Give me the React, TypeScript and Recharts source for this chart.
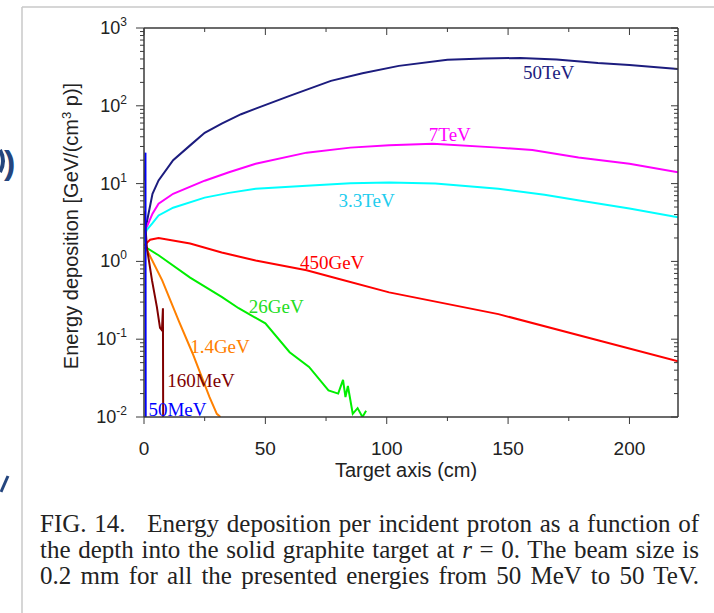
import { LineChart, Line, XAxis, YAxis, ReferenceDot } from "recharts";

// depth along the target axis (cm) and energy deposition (GeV/(cm^3 p))
const depth50TeV = [0, 1, 3.5, 6, 12, 19, 25, 32, 40, 46, 60, 77, 90, 105, 125, 140, 155, 170, 187, 200, 220];
const edep50TeV = [2, 3, 7.4, 11, 20, 31, 45, 59, 78, 92, 134, 209, 262, 326, 390, 405, 412, 395, 355, 335, 297];

const depth7TeV = [0, 1, 3.5, 6, 12, 25, 35, 46, 67, 85, 101, 119, 146, 160, 179, 200, 220];
const edep7TeV = [2, 2.7, 4.1, 5.5, 7.4, 10.9, 14, 18, 25, 29, 31, 32.6, 29, 27, 21.6, 18, 14];

const depth3TeV = [0, 1, 3.5, 6, 12, 25, 35, 46, 67, 85, 101, 120, 146, 165, 180, 200, 220];
const edep3TeV = [1.8, 2.5, 3.1, 3.9, 4.9, 6.6, 7.6, 8.6, 9.4, 10.1, 10.3, 10, 8.6, 7.2, 6.0, 4.8, 3.7];

const depth450GeV = [0, 2.5, 6, 19, 32, 46, 67, 80, 101, 146, 187, 220];
const edep450GeV = [1.6, 1.9, 2.0, 1.7, 1.3, 1.03, 0.77, 0.6, 0.4, 0.21, 0.097, 0.052];

const depth26GeV = [0, 1, 6, 19, 32, 39, 50, 60, 68, 76, 80, 82, 83, 84, 86, 88, 90, 91.5];
const edep26GeV = [1.5, 1.5, 1.2, 0.62, 0.35, 0.25, 0.16, 0.068, 0.044, 0.022, 0.02, 0.03, 0.018, 0.025, 0.011, 0.013, 0.01, 0.012];

const depth1GeV = [0, 1, 7.5, 14.4, 20, 27, 30, 31.5];
const edep1GeV = [1.5, 1.45, 0.57, 0.17, 0.066, 0.018, 0.011, 0.01];

const depth160MeV = [0, 0.4, 1.2, 3.3, 5.3, 6.6, 7.4, 7.8, 7.9];
const edep160MeV = [4.4, 3.4, 1.5, 0.57, 0.26, 0.14, 0.13, 0.25, 0.01];

const depth50MeV = [0, 0.4, 0.6, 0.7];
const edep50MeV = [11, 12, 25, 0.01];

const xMajorTicks = [0, 50, 100, 150, 200];
const xMinorTicks = [25, 75, 125, 175];
const yDecades = [0.01, 0.1, 1, 10, 100];
const yTop = 1000;

const toPoints = (xs: number[], ys: number[]) => xs.map((x, i) => ({ x, y: ys[i] }));

const series = [
  { name: "50TeV", color: "#1c1c7e", data: toPoints(depth50TeV, edep50TeV) },
  { name: "7TeV", color: "#ff00ff", data: toPoints(depth7TeV, edep7TeV) },
  { name: "3.3TeV", color: "#00ffff", data: toPoints(depth3TeV, edep3TeV) },
  { name: "450GeV", color: "#ff0000", data: toPoints(depth450GeV, edep450GeV) },
  { name: "26GeV", color: "#00ee00", data: toPoints(depth26GeV, edep26GeV) },
  { name: "1.4GeV", color: "#ff8000", data: toPoints(depth1GeV, edep1GeV) },
  { name: "160MeV", color: "#800000", data: toPoints(depth160MeV, edep160MeV) },
  { name: "50MeV", color: "#0000ff", data: toPoints(depth50MeV, edep50MeV) },
];

// curve annotations (data coordinates)
const labels = [
  { text: "50TeV", x: 166.7, y: 272, color: "#1c1c7e" },
  { text: "7TeV", x: 126, y: 42.8, color: "#ff00ff" },
  { text: "3.3TeV", x: 91.7, y: 6.15, color: "#22ccee" },
  { text: "450GeV", x: 77.5, y: 0.97, color: "#ff0000" },
  { text: "26GeV", x: 54.5, y: 0.263, color: "#22dd22" },
  { text: "1.4GeV", x: 31.3, y: 0.0818, color: "#ff8000" },
  { text: "160MeV", x: 23.5, y: 0.0293, color: "#800000" },
  { text: "50MeV", x: 13.8, y: 0.0124, color: "#0000ff" },
];

const yTicks = [...yDecades.flatMap((d) => [1, 2, 3, 4, 5, 6, 7, 8, 9].map((m) => +(d * m).toPrecision(3))), yTop];
const xTicks = [...xMajorTicks, ...xMinorTicks].sort((a, b) => a - b);

const AXIS = "#3a3a3a";
const SANS = "'Liberation Sans', Arial, Helvetica, sans-serif";
const SERIF = "'Liberation Serif', 'Times New Roman', serif";

const isDecade = (v: number) => Math.abs(Math.log10(v) - Math.round(Math.log10(v))) < 1e-6;

function LeftTick({ x, y, payload }: any) {
  const v = payload.value;
  const major = isDecade(v);
  const exp = Math.round(Math.log10(v));
  return (
    <g>
      <line x1={x} x2={x - (major ? 8 : 4)} y1={y} y2={y} stroke={AXIS} strokeWidth={1} />
      {major && (
        <text x={x - 17} y={y + 6} textAnchor="end" fontSize={18} fontFamily={SANS} fill="#222">
          10<tspan dy={-8} fontSize={12}>{exp}</tspan>
        </text>
      )}
    </g>
  );
}

function RightTick({ x, y, payload }: any) {
  const major = isDecade(payload.value);
  return <line x1={x} x2={x - (major ? 7 : 4)} y1={y} y2={y} stroke={AXIS} strokeWidth={1} />;
}

function BottomTick({ x, y, payload }: any) {
  const major = xMajorTicks.includes(payload.value);
  return (
    <g>
      <line x1={x} x2={x} y1={y} y2={y + (major ? 7 : 4)} stroke={AXIS} strokeWidth={1} />
      {major && (
        <text x={x} y={y + 38} textAnchor="middle" fontSize={19} fontFamily={SANS} fill="#222">
          {payload.value}
        </text>
      )}
    </g>
  );
}

function TopTick({ x, y, payload }: any) {
  const major = xMajorTicks.includes(payload.value);
  return <line x1={x} x2={x} y1={y} y2={y + (major ? 7 : 4)} stroke={AXIS} strokeWidth={1} />;
}

export default function App() {
  return (
    <div style={{ position: "absolute", left: 0, top: 0, width: 714, height: 613, background: "#fff", overflow: "hidden" }}>
      <svg width={714} height={613} style={{ position: "absolute", left: 0, top: 0 }}>
        <line x1={22} x2={714} y1={7} y2={7} stroke="#c8c8c8" strokeWidth={1.5} />
        <line x1={22} x2={22} y1={7} y2={613} stroke="#c8c8c8" strokeWidth={1.5} />
        <path d="M0 150 Q6 161 0 172" fill="none" stroke="#24457e" strokeWidth={4} />
        <text x={4} y={174} fontSize={34} fontWeight="bold" fontFamily={SANS} fill="#24457e">)</text>
        <line x1={1} y1={492} x2={8} y2={476} stroke="#24457e" strokeWidth={3} />
        <text transform="translate(78,226) rotate(-90)" textAnchor="middle" fontSize={20} fontFamily={SANS} fill="#222">
          Energy deposition [GeV/(cm<tspan dy={-7} fontSize={13}>3</tspan>
          <tspan dy={7}> p)]</tspan>
        </text>
        <text x={406} y={477} textAnchor="middle" fontSize={20} fontFamily={SANS} fill="#222">
          Target axis (cm)
        </text>
      </svg>
      <div style={{ position: "absolute", left: 0, top: 0 }}>
        <LineChart width={714} height={613} margin={{ top: 27, right: 35, left: 0, bottom: 163 }}>
          <XAxis
            xAxisId={0}
            dataKey="x"
            type="number"
            domain={[0, 220]}
            ticks={xTicks}
            interval={0}
            tickSize={0}
            tickMargin={0}
            tick={<BottomTick />}
            height={33}
            allowDataOverflow
            axisLine={{ stroke: AXIS, strokeWidth: 1.5 }}
          />
          <XAxis
            xAxisId="top"
            orientation="top"
            dataKey="x"
            type="number"
            domain={[0, 220]}
            ticks={xTicks}
            interval={0}
            tickSize={0}
            tickMargin={0}
            tick={<TopTick />}
            height={1}
            allowDataOverflow
            axisLine={{ stroke: AXIS, strokeWidth: 1.5 }}
          />
          <YAxis
            yAxisId={0}
            type="number"
            scale="log"
            domain={[0.01, 1000]}
            ticks={yTicks}
            interval={0}
            tickSize={0}
            tickMargin={0}
            tick={<LeftTick />}
            width={144}
            allowDataOverflow
            axisLine={{ stroke: AXIS, strokeWidth: 1.5 }}
          />
          <YAxis
            yAxisId="right"
            orientation="right"
            type="number"
            scale="log"
            domain={[0.01, 1000]}
            ticks={yTicks}
            interval={0}
            tickSize={0}
            tickMargin={0}
            tick={<RightTick />}
            width={1}
            allowDataOverflow
            axisLine={{ stroke: AXIS, strokeWidth: 1.5 }}
          />
          {series.map((s) => (
            <Line
              key={s.name}
              data={s.data}
              dataKey="y"
              type="linear"
              stroke={s.color}
              strokeWidth={2}
              dot={false}
              activeDot={false}
              isAnimationActive={false}
            />
          ))}
          {labels.map((l) => (
            <ReferenceDot
              key={l.text}
              x={l.x}
              y={l.y}
              r={0}
              fill="none"
              stroke="none"
              label={{ value: l.text, position: "center", fill: l.color, fontSize: 19, fontFamily: SERIF }}
            />
          ))}
        </LineChart>
      </div>
      <div
        style={{
          position: "absolute",
          left: 40,
          top: 511,
          width: 659,
          fontFamily: SERIF,
          fontSize: 25,
          lineHeight: "26px",
          color: "#222",
        }}
      >
        <div style={{ textAlign: "justify", textAlignLast: "justify" }}>
          FIG. 14.<span style={{ display: "inline-block", width: 14 }} /> Energy deposition per incident proton as a function of
        </div>
        <div style={{ textAlign: "justify", textAlignLast: "justify" }}>
          the depth into the solid graphite target at <i>r</i> = 0. The beam size is
        </div>
        <div style={{ textAlign: "justify", textAlignLast: "justify" }}>
          0.2 mm for all the presented energies from 50 MeV to 50 TeV.
        </div>
      </div>
    </div>
  );
}
